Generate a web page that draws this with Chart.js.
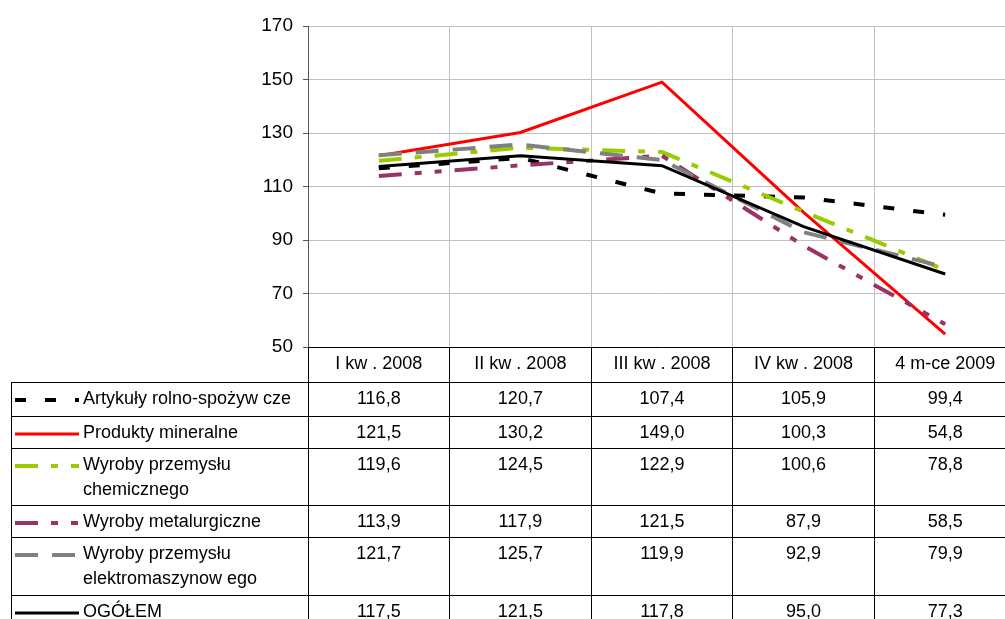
<!DOCTYPE html>
<html><head><meta charset="utf-8">
<script src="https://cdn.jsdelivr.net/npm/chart.js@4.4.0/dist/chart.umd.min.js"></script>
<style>
html,body{margin:0;padding:0;background:#fff;overflow:hidden;width:1005px;height:619px;}
#wrap{position:relative;width:1005px;height:619px;overflow:hidden;}
#c{position:absolute;left:0;top:0;}
.t{position:absolute;font-family:"Liberation Sans",Arial,sans-serif;font-size:18px;line-height:25px;color:#000;white-space:nowrap;}
.ln{position:absolute;background:#000;}
#keys{position:absolute;left:0;top:0;}
</style></head><body>
<div id="wrap"><canvas id="c" width="1030" height="619" style="width:1030px;height:619px"></canvas><div id="tbl"></div></div>
<script>
const categories = ["I kw . 2008", "II kw . 2008", "III kw . 2008", "IV kw . 2008", "4 m-ce 2009"];
const seriesNames = [["Artykuły rolno-spożyw cze"], ["Produkty mineralne"], ["Wyroby przemysłu", "chemicznego"], ["Wyroby metalurgiczne"], ["Wyroby przemysłu", "elektromaszynow ego"], ["OGÓŁEM"]];
const artykuly = [116.8, 120.7, 107.4, 105.9, 99.4];
const mineralne = [121.5, 130.2, 149.0, 100.3, 54.8];
const chemiczne = [119.6, 124.5, 122.9, 100.6, 78.8];
const metalurgiczne = [113.9, 117.9, 121.5, 87.9, 58.5];
const elektromasz = [121.7, 125.7, 119.9, 92.9, 79.9];
const ogolem = [117.5, 121.5, 117.8, 95.0, 77.3];
const yTicks = [50, 70, 90, 110, 130, 150, 170];

const seriesValues = [artykuly, mineralne, chemiczne, metalurgiczne, elektromasz, ogolem];
const styles = [
  {color:'#000000', width:4, dash:[11,19]},
  {color:'#FF0000', width:3, dash:[]},
  {color:'#99CC00', width:4, dash:[23,13,7,13]},
  {color:'#993366', width:4, dash:[23,13,7,13,7,13]},
  {color:'#808080', width:4, dash:[23,14]},
  {color:'#000000', width:3, dash:[]}
];
const FONT = 'Liberation Sans';

const chart = new Chart(document.getElementById('c'), {
  type: 'line',
  data: {
    labels: categories,
    datasets: seriesValues.map((v, i) => ({
      label: seriesNames[i].join(' '),
      data: v,
      borderColor: styles[i].color,
      backgroundColor: styles[i].color,
      borderWidth: styles[i].width,
      borderDash: styles[i].dash,
      borderCapStyle: 'butt',
      borderJoinStyle: 'miter',
      pointRadius: 0,
      tension: 0,
      fill: false,
      order: seriesValues.length - 1 - i
    }))
  },
  options: {
    responsive: false,
    animation: false,
    devicePixelRatio: 1,
    layout: {padding: {left: 0, top: 26, right: 14, bottom: 272}},
    plugins: {legend: {display: false}, tooltip: {enabled: false}},
    scales: {
      x: {
        offset: true,
        grid: {offset: true, color: '#c0c0c0', lineWidth: 1, drawTicks: false},
        border: {display: true, color: '#000', width: 1},
        ticks: {display: false},
        afterFit: s => { s.height = 0; }
      },
      y: {
        min: yTicks[0], max: yTicks[yTicks.length - 1],
        afterBuildTicks: s => { s.ticks = yTicks.map(v => ({value: v})); },
        ticks: {font: {family: FONT, size: 19}, color: '#000', padding: 10},
        grid: {color: '#c0c0c0', tickLength: 5, tickColor: '#555'},
        border: {color: '#555', width: 1},
        afterFit: s => { s.width = 308; }
      }
    }
  }
});

// ---- data table under the plot, aligned to the chart's x scale ----
const sx = chart.scales.x;
const half = (sx.getPixelForValue(1) - sx.getPixelForValue(0)) / 2;
const colEdges = [11].concat(categories.map((c, i) => sx.getPixelForValue(i) - half));
colEdges.push(sx.getPixelForValue(categories.length - 1) + half);
const rowTops = [347, 382, 416, 448, 505, 537, 595, 660];
const tbl = document.getElementById('tbl');
function el(cls, css, html) {
  const d = document.createElement('div');
  d.className = cls; Object.assign(d.style, css);
  if (html !== undefined) d.innerHTML = html;
  tbl.appendChild(d); return d;
}
const fmt = v => v.toFixed(1).replace('.', ',');
for (let k = 1; k < rowTops.length - 1; k++) {
  el('ln', {left: '11px', top: rowTops[k] + 'px', width: (colEdges[colEdges.length-1] - 11) + 'px', height: '1px'});
}
el('ln', {left: '11px', top: rowTops[1] + 'px', width: '1px', height: (rowTops[rowTops.length-1] - rowTops[1]) + 'px'});
for (let j = 1; j < colEdges.length; j++) {
  el('ln', {left: Math.floor(colEdges[j]) + 'px', top: rowTops[0] + 'px', width: '1px', height: (rowTops[rowTops.length-1] - rowTops[0]) + 'px'});
}
categories.forEach((c, i) => {
  const l = colEdges[i+1], r = colEdges[i+2];
  el('t', {left: l + 'px', width: (r - l) + 'px', top: (rowTops[0] + 4) + 'px', textAlign: 'center'}, c);
});
seriesValues.forEach((vals, s) => {
  const top = rowTops[s+1] + 4;
  el('t', {left: '83px', top: top + 'px'}, seriesNames[s].join('<br>'));
  vals.forEach((v, i) => {
    const l = colEdges[i+1], r = colEdges[i+2];
    el('t', {left: l + 'px', width: (r - l) + 'px', top: top + 'px', textAlign: 'center'}, fmt(v));
  });
});
const NS = 'http://www.w3.org/2000/svg';
const svg = document.createElementNS(NS, 'svg');
svg.setAttribute('width', '1005'); svg.setAttribute('height', '619'); svg.id = 'keys';
styles.forEach((st, s) => {
  const y = rowTops[s+1] + 18;
  const ln = document.createElementNS(NS, 'line');
  ln.setAttribute('x1', 15); ln.setAttribute('x2', 79);
  ln.setAttribute('y1', y); ln.setAttribute('y2', y);
  ln.setAttribute('stroke', st.color);
  ln.setAttribute('stroke-width', st.width);
  if (st.dash.length) ln.setAttribute('stroke-dasharray', st.dash.join(' '));
  svg.appendChild(ln);
});
tbl.appendChild(svg);
</script>
</body></html>
